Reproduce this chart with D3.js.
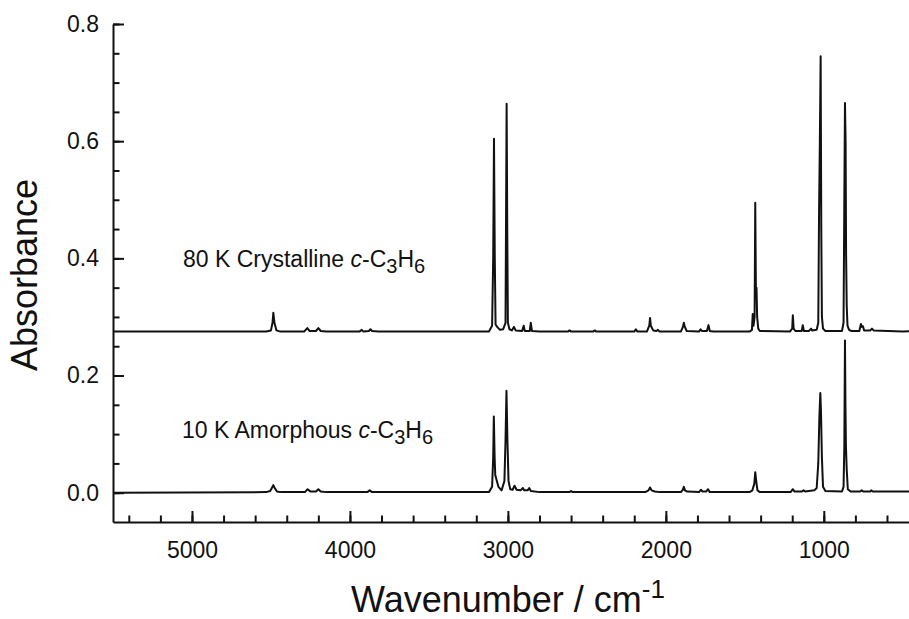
<!DOCTYPE html>
<html>
<head>
<meta charset="utf-8">
<script src="https://cdn.jsdelivr.net/npm/d3@7"></script>
<style>
  body { margin: 0; background: #fff; }
  svg { display: block; font-family: "Liberation Sans", Arial, sans-serif; }
  .axis path, .axis line { stroke: #111; stroke-width: 2; }
  .axis text { fill: #111; font-size: 23px; font-family: "Liberation Sans", Arial, sans-serif; }
</style>
</head>
<body>
<div class="chart"></div>
<script>
// spectra: [wavenumber cm-1, absorbance]
var crystalline = [
  [5500, 0.275], [4530, 0.275], [4500, 0.277], [4490, 0.29], [4485, 0.307], [4478, 0.29], [4465, 0.277], [4440, 0.275],
  [4290, 0.275], [4270, 0.281], [4255, 0.276], [4215, 0.276], [4200, 0.281], [4185, 0.276], [4150, 0.275],
  [3940, 0.275], [3925, 0.278], [3915, 0.275], [3880, 0.276], [3870, 0.279], [3860, 0.276], [3820, 0.275],
  [3120, 0.275], [3100, 0.285], [3093, 0.4], [3088, 0.604], [3083, 0.4], [3078, 0.287], [3068, 0.283], [3050, 0.278],
  [3030, 0.279], [3015, 0.29], [3012, 0.45], [3008, 0.664], [3004, 0.45], [3000, 0.29], [2990, 0.279],
  [2975, 0.277], [2962, 0.283], [2950, 0.277], [2910, 0.276], [2900, 0.285], [2893, 0.276],
  [2862, 0.276], [2855, 0.29], [2848, 0.276], [2800, 0.275],
  [2620, 0.275], [2610, 0.277], [2600, 0.275], [2460, 0.275], [2450, 0.277], [2440, 0.275],
  [2200, 0.275], [2190, 0.279], [2180, 0.275],
  [2120, 0.275], [2105, 0.285], [2100, 0.298], [2095, 0.285], [2080, 0.277], [2060, 0.276], [2050, 0.278], [2040, 0.275],
  [1905, 0.275], [1892, 0.283], [1886, 0.29], [1880, 0.283], [1868, 0.276],
  [1790, 0.275], [1780, 0.279], [1772, 0.276], [1740, 0.276], [1730, 0.286], [1722, 0.276], [1700, 0.275],
  [1470, 0.275], [1455, 0.278], [1450, 0.305], [1445, 0.285], [1438, 0.3], [1434, 0.495], [1430, 0.35],
  [1426, 0.35], [1422, 0.3], [1415, 0.28], [1405, 0.276],
  [1215, 0.275], [1200, 0.28], [1196, 0.303], [1191, 0.28], [1180, 0.276], [1140, 0.276], [1133, 0.286],
  [1126, 0.276], [1095, 0.276], [1080, 0.28], [1074, 0.277], [1045, 0.278],
  [1035, 0.29], [1030, 0.48], [1025, 0.6], [1020, 0.745], [1016, 0.45], [1012, 0.3], [1005, 0.28], [990, 0.276],
  [885, 0.276], [875, 0.29], [870, 0.5], [866, 0.665], [862, 0.6], [859, 0.41], [855, 0.32], [850, 0.285],
  [840, 0.278], [825, 0.276],
  [775, 0.276], [765, 0.288], [759, 0.283], [752, 0.284], [745, 0.277], [705, 0.277], [695, 0.28], [685, 0.277],
  [500, 0.275], [440, 0.276], [432, 0.279], [425, 0.273], [418, 0.278], [410, 0.276]
];

var amorphous = [
  [5500, 0.0], [4530, 0.001], [4505, 0.003], [4490, 0.01], [4485, 0.013], [4478, 0.009], [4462, 0.002], [4440, 0.001],
  [4285, 0.001], [4268, 0.006], [4250, 0.002], [4215, 0.002], [4200, 0.006], [4185, 0.002], [4150, 0.001],
  [3890, 0.001], [3875, 0.004], [3860, 0.001],
  [3120, 0.001], [3100, 0.01], [3093, 0.06], [3089, 0.13], [3084, 0.06], [3080, 0.03], [3072, 0.022], [3060, 0.01],
  [3040, 0.004], [3022, 0.02], [3015, 0.09], [3009, 0.174], [3003, 0.09], [2996, 0.02], [2985, 0.006],
  [2970, 0.005], [2958, 0.012], [2945, 0.005], [2920, 0.004], [2905, 0.008], [2897, 0.004],
  [2875, 0.004], [2865, 0.008], [2855, 0.003], [2800, 0.001],
  [2610, 0.001], [2600, 0.003], [2590, 0.001],
  [2130, 0.001], [2110, 0.004], [2100, 0.009], [2090, 0.004], [2070, 0.002], [2040, 0.001],
  [1905, 0.001], [1893, 0.005], [1886, 0.01], [1879, 0.004], [1865, 0.002],
  [1790, 0.001], [1778, 0.005], [1768, 0.002], [1745, 0.002], [1733, 0.006], [1722, 0.001],
  [1470, 0.001], [1452, 0.004], [1446, 0.01], [1440, 0.015], [1434, 0.035], [1428, 0.02], [1420, 0.004], [1405, 0.001],
  [1210, 0.001], [1196, 0.006], [1185, 0.002], [1140, 0.002], [1128, 0.004], [1118, 0.002],
  [1060, 0.004], [1045, 0.008], [1035, 0.05], [1028, 0.13], [1022, 0.17], [1018, 0.14], [1012, 0.06],
  [1005, 0.01], [990, 0.003],
  [885, 0.002], [875, 0.01], [870, 0.08], [866, 0.26], [863, 0.15], [860, 0.08], [855, 0.04], [848, 0.006], [830, 0.002],
  [770, 0.002], [760, 0.004], [750, 0.002], [705, 0.002], [700, 0.004], [690, 0.002],
  [440, 0.002], [432, 0.005], [425, -0.001], [418, 0.004], [410, 0.002]
];

var xMajorTicks = [5000, 4000, 3000, 2000, 1000];
var yMajorTicks = [0.0, 0.2, 0.4, 0.6, 0.8];
var labelCrystalline = "80 K Crystalline ";
var labelAmorphous = "10 K Amorphous ";

var svgWidth = 909;
var svgHeight = 619;

var svg = d3.select(".chart")
  .append("svg")
  .attr("width", svgWidth)
  .attr("height", svgHeight);

// scales (x runs high -> low like an IR spectrum)
var x = d3.scaleLinear().domain([5500, 410]).range([113, 917]);
var y = d3.scaleLinear().domain([-0.05, 0.8]).range([522, 24]);

// minor ticks first, no domain line
svg.append("g")
  .attr("class", "axis")
  .attr("transform", "translate(0,522)")
  .call(d3.axisBottom(x).tickValues(d3.range(5400, 400, -200)).tickSize(-6.5).tickFormat(""))
  .call(g => g.select(".domain").remove());

svg.append("g")
  .attr("class", "axis")
  .attr("transform", "translate(113,0)")
  .call(d3.axisLeft(y).tickValues(d3.range(0, 0.81, 0.05)).tickSize(-6.5).tickFormat(""))
  .call(g => g.select(".domain").remove());

// major axes
svg.append("g")
  .attr("class", "axis")
  .attr("transform", "translate(0,522)")
  .call(d3.axisBottom(x).tickValues(xMajorTicks).tickSize(-11).tickSizeOuter(0).tickPadding(20).tickFormat(d3.format("d")));

svg.append("g")
  .attr("class", "axis")
  .attr("transform", "translate(113,0)")
  .call(d3.axisLeft(y).tickValues(yMajorTicks).tickSize(-11).tickSizeOuter(0).tickPadding(14).tickFormat(d3.format(".1f")));

// spectra
var line = d3.line()
  .x(d => x(d[0]))
  .y(d => y(d[1]));

[crystalline, amorphous].forEach(function (s) {
  svg.append("path")
    .datum(s)
    .attr("fill", "none")
    .attr("stroke", "#111")
    .attr("stroke-width", 2)
    .attr("stroke-linejoin", "round")
    .attr("d", line);
});

// labels with c-C3H6
function addLabel(txt, xp, yp) {
  var t = svg.append("text")
    .attr("x", xp)
    .attr("y", yp)
    .attr("font-size", 23)
    .attr("fill", "#111");
  t.append("tspan").text(txt);
  t.append("tspan").attr("font-style", "italic").text("c");
  t.append("tspan").text("-C");
  t.append("tspan").attr("dy", 6).attr("font-size", 20).text("3");
  t.append("tspan").attr("dy", -6).text("H");
  t.append("tspan").attr("dy", 6).attr("font-size", 20).text("6");
}
addLabel(labelCrystalline, 183, 267);
addLabel(labelAmorphous, 182, 438);

// axis titles
var xt = svg.append("text")
  .attr("x", 508)
  .attr("y", 612)
  .attr("text-anchor", "middle")
  .attr("font-size", 36)
  .attr("fill", "#111");
xt.append("tspan").text("Wavenumber / cm");
xt.append("tspan").attr("dy", -14).attr("font-size", 26).text("-1");

svg.append("text")
  .attr("transform", "translate(37,275) rotate(-90)")
  .attr("text-anchor", "middle")
  .attr("font-size", 36)
  .attr("fill", "#111")
  .text("Absorbance");
</script>
</body>
</html>
